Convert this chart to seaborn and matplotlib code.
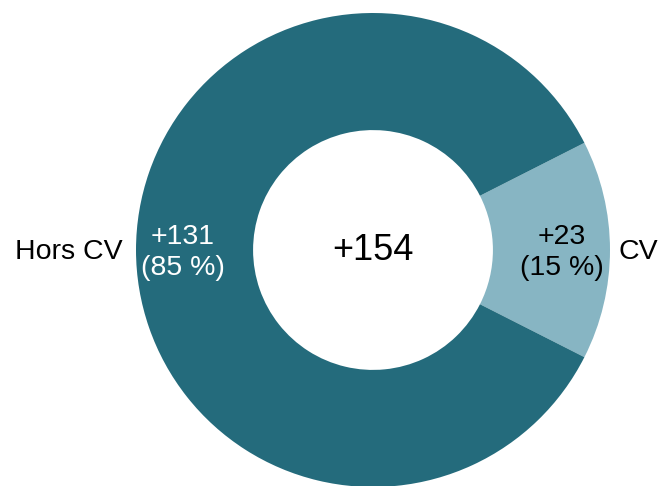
import matplotlib
matplotlib.use("Agg")
import matplotlib.pyplot as plt
import seaborn as sns

# Breakdown of the net change
categories = ["CV", "Hors CV"]
values = [23, 131]
shares = [15, 85]
total = 154

sns.set_theme(style="white")
plt.rcParams["font.family"] = ["Liberation Sans", "DejaVu Sans"]

colors = ["#87B5C3", "#246B7C"]

fig = plt.figure(figsize=(6.64, 4.86), dpi=100)
ax = fig.add_axes([136 / 664, -1 / 486, 474 / 664, 474 / 486])

# CV wedge centred on the right-hand side
start = -360 * values[0] / sum(values) / 2
ax.pie(values, colors=colors, startangle=start, counterclock=True,
       radius=1, wedgeprops=dict(width=0.494, edgecolor="none"))
ax.set_xlim(-1, 1)
ax.set_ylim(-1, 1)
ax.axis("off")

fs = 20.5
ax.text(0.797, -0.01, f"+{values[0]}\n({shares[0]} %)", ha="center", va="center",
        fontsize=fs, color="black", linespacing=1.25)
ax.text(1.118, -0.01, categories[0], ha="center", va="center",
        fontsize=fs, color="black", clip_on=False)
ax.text(-0.804, -0.01, f"+{values[1]}\n({shares[1]} %)", ha="center", va="center",
        fontsize=fs, color="white", linespacing=1.25)
ax.text(-1.283, -0.01, categories[1], ha="center", va="center",
        fontsize=fs, color="black", clip_on=False)
ax.text(0, 0, f"+{total}", ha="center", va="center", fontsize=26, color="black")

fig.savefig("out.png", dpi=100)
